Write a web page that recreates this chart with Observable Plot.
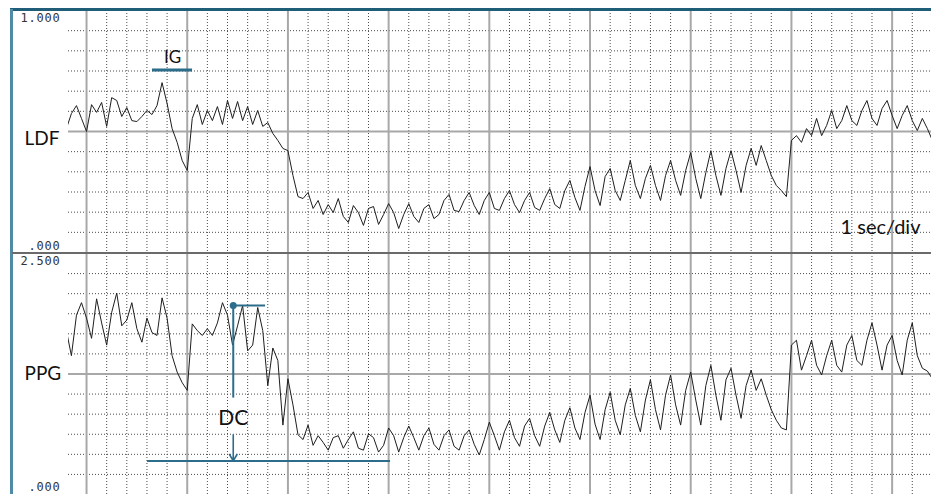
<!DOCTYPE html>
<html><head><meta charset="utf-8">
<script src="https://cdn.jsdelivr.net/npm/d3@7"></script>
<script src="https://cdn.jsdelivr.net/npm/@observablehq/plot@0.6"></script>
<style>
body{margin:0;background:#fff;}
#wrap{position:relative;width:931px;height:494px;overflow:hidden;background:#fff;}
#wrap svg{display:block;}
.deco{position:absolute;}
g[aria-label="y-axis tick label"] text{letter-spacing:0.8px;}
</style></head><body><div id="wrap"></div>
<script>
// sample times (seconds), 1 sec per major division
const time = [
-0.20,-0.15,-0.10,-0.05,0.00,0.05,0.10,0.15,0.20,0.25,
0.30,0.35,0.40,0.45,0.50,0.55,0.60,0.65,0.70,0.75,
0.80,0.85,0.90,0.95,1.00,1.05,1.10,1.15,1.20,1.25,
1.30,1.35,1.40,1.45,1.50,1.55,1.60,1.65,1.70,1.75,
1.80,1.85,1.90,1.95,2.00,2.05,2.10,2.15,2.20,2.25,
2.30,2.35,2.40,2.45,2.50,2.55,2.60,2.65,2.70,2.75,
2.80,2.85,2.90,2.95,3.00,3.05,3.10,3.15,3.20,3.25,
3.30,3.35,3.40,3.45,3.50,3.55,3.60,3.65,3.70,3.75,
3.80,3.85,3.90,3.95,4.00,4.05,4.10,4.15,4.20,4.25,
4.30,4.35,4.40,4.45,4.50,4.55,4.60,4.65,4.70,4.75,
4.80,4.85,4.90,4.95,5.00,5.05,5.10,5.15,5.20,5.25,
5.30,5.35,5.40,5.45,5.50,5.55,5.60,5.65,5.70,5.75,
5.80,5.85,5.90,5.95,6.00,6.05,6.10,6.15,6.20,6.25,
6.30,6.35,6.40,6.45,6.50,6.55,6.60,6.65,6.70,6.75,
6.80,6.85,6.90,6.95,7.00,7.05,7.10,7.15,7.20,7.25,
7.30,7.35,7.40,7.45,7.50,7.55,7.60,7.65,7.70,7.75,
7.80,7.85,7.90,7.95,8.00,8.05,8.10,8.15,8.20,8.25,
8.30,8.35,8.40];

const ldf = [
.512,.574,.607,.554,.500,.611,.579,.620,.521,.640,
.628,.562,.599,.545,.541,.562,.587,.570,.607,.702,
.616,.512,.455,.380,.339,.554,.611,.529,.587,.545,
.603,.529,.628,.554,.624,.545,.603,.529,.587,.521,
.537,.492,.463,.430,.421,.318,.231,.223,.248,.182,
.215,.157,.198,.165,.223,.149,.124,.194,.165,.112,
.182,.190,.116,.157,.202,.165,.099,.157,.202,.149,
.124,.182,.198,.140,.157,.215,.240,.174,.169,.215,
.248,.194,.157,.215,.248,.182,.174,.223,.256,.198,
.165,.215,.248,.186,.174,.223,.264,.198,.182,.256,
.298,.227,.174,.273,.355,.256,.194,.314,.347,.256,
.215,.298,.380,.277,.223,.306,.360,.277,.215,.318,
.380,.298,.236,.339,.413,.306,.223,.330,.421,.318,
.236,.347,.421,.339,.248,.360,.430,.360,.442,.380,
.318,.277,.256,.231,.463,.483,.455,.512,.483,.554,
.483,.525,.587,.512,.545,.607,.545,.525,.587,.628,
.554,.525,.595,.628,.566,.512,.566,.607,.545,.504,
.554,.512,.463];

const ppg = [
1.70,1.44,1.86,1.99,1.83,1.62,2.03,1.78,1.55,1.89,
2.09,1.75,1.81,1.99,1.72,1.58,1.83,1.68,1.65,2.04,
1.83,1.44,1.27,1.16,1.08,1.77,1.70,1.65,1.72,1.65,
1.78,1.99,1.86,1.55,1.75,1.96,1.49,1.55,1.94,1.70,
1.13,1.52,1.39,0.72,1.20,0.93,0.62,0.57,0.72,0.51,
0.61,0.54,0.46,0.59,0.61,0.48,0.57,0.65,0.48,0.46,
0.63,0.59,0.44,0.51,0.69,0.61,0.44,0.59,0.71,0.59,
0.46,0.61,0.69,0.52,0.46,0.61,0.67,0.50,0.46,0.61,
0.67,0.52,0.41,0.57,0.75,0.61,0.46,0.65,0.77,0.59,
0.50,0.71,0.79,0.61,0.50,0.71,0.85,0.67,0.54,0.77,
0.90,0.69,0.57,0.85,1.03,0.73,0.57,0.88,1.06,0.77,
0.62,0.93,1.10,0.82,0.65,0.98,1.19,0.88,0.67,1.03,
1.24,0.93,0.72,1.08,1.27,0.98,0.72,1.13,1.34,1.03,
0.77,1.19,1.31,1.03,0.79,1.13,1.29,1.08,1.20,1.03,
0.88,0.77,0.69,0.67,1.55,1.60,1.29,1.44,1.60,1.34,
1.24,1.44,1.60,1.34,1.27,1.55,1.65,1.39,1.34,1.60,
1.78,1.55,1.29,1.55,1.65,1.39,1.24,1.60,1.78,1.44,
1.31,1.28,1.20];

// grid / ticks
const timeDomain = [-0.179, 8.391];
const majorTicks = [0,1,2,3,4,5,6,7,8];
const minorTicks = [0.2,0.4,0.6,0.8,1.2,1.4,1.6,1.8,2.2,2.4,2.6,2.8,3.2,3.4,3.6,3.8,
  4.2,4.4,4.6,4.8,5.2,5.4,5.6,5.8,6.2,6.4,6.6,6.8,7.2,7.4,7.6,7.8,8.2];
const ldfMinor = [0.0833,0.1667,0.25,0.3333,0.4167,0.5833,0.6667,0.75,0.8333,0.9167];
const ldfMid = [0.5];
const ppgMinor = [0.2083,0.4167,0.625,0.8333,1.0417,1.4583,1.6667,1.875,2.0833,2.2917];
const ppgMid = [1.25];
const ldfTicks = [1, 0];
const ldfTickLabels = ["1.000", ".000"];
const ppgTicks = [2.5, 0];
const ppgTickLabels = ["2.500", ".000"];

// annotations
const igLabel = "IG";
const igSpan = [0.655, 1.053];
const igLevel = 0.754;
const dcLabel = "DC";
const dcTime = 1.457;
const dcTop = 1.96;
const dcTopEnd = 1.778;
const dcBase = 0.348;
const dcBaseSpan = [0.606, 3.019];
const dcLabelLevel = 0.79;
const dcGap = [0.62, 1.0];
const scaleNote = "1 sec/div";

const blue = "#2c6d8c";
const dotted = {stroke: "#4a4a4a", strokeDasharray: "1,2", strokeWidth: 1};
const major = {stroke: "#a8a8a8", strokeWidth: 2};
const axisFont = {fontFamily: "DejaVu Sans Mono", fontSize: 12, fill: "#333"};
const labelFont = {fontFamily: "Lato", fill: "#111"};

function rows(vals) { return vals.map((v, i) => ({t: time[i], v})); }

function axisMarks(ticks, labels, dyTop, dyBottom) {
  const fmt = d => labels[ticks.indexOf(d)];
  return [
    Plot.axisY([ticks[0]], {tickSize: 0, tickPadding: 8, dy: dyTop, tickFormat: fmt, label: null, ...axisFont}),
    Plot.axisY([ticks[1]], {tickSize: 0, tickPadding: 8, dy: dyBottom, tickFormat: fmt, label: null, ...axisFont})
  ];
}

const ldfChart = Plot.plot({
  width: 931, height: 252, marginTop: 10, marginBottom: 0, marginLeft: 68, marginRight: 0,
  x: {domain: timeDomain, axis: null},
  y: {domain: [0, 1]},
  marks: [
    Plot.ruleY(ldfMinor, dotted),
    Plot.ruleX(minorTicks, dotted),
    Plot.ruleX(majorTicks, major),
    Plot.ruleY(ldfMid, major),
    Plot.line(rows(ldf), {x: "t", y: "v", stroke: "#1e1e1e", strokeWidth: 1, clip: true}),
    ...axisMarks(ldfTicks, ldfTickLabels, 7.5, -6),
    Plot.text(["LDF"], {frameAnchor: "left", textAnchor: "start", dx: -44, dy: 7, fontSize: 19, ...labelFont}),
    Plot.ruleY([igLevel], {x1: igSpan[0], x2: igSpan[1], stroke: blue, strokeWidth: 3}),
    Plot.text([igLabel], {x: (igSpan[0] + igSpan[1]) / 2, y: igLevel, dy: -12, fontSize: 17, ...labelFont}),
    Plot.text([scaleNote], {frameAnchor: "bottom-right", textAnchor: "end", dx: -11, dy: -19, fontSize: 20, ...labelFont})
  ]
});

const ppgChart = Plot.plot({
  width: 931, height: 242, marginTop: 1, marginBottom: 0, marginLeft: 68, marginRight: 0,
  x: {domain: timeDomain, axis: null},
  y: {domain: [0, 2.5]},
  marks: [
    Plot.ruleY(ppgMinor, dotted),
    Plot.ruleX(minorTicks, dotted),
    Plot.ruleX(majorTicks, major),
    Plot.ruleY(ppgMid, major),
    Plot.line(rows(ppg), {x: "t", y: "v", stroke: "#1e1e1e", strokeWidth: 1, clip: true}),
    ...axisMarks(ppgTicks, ppgTickLabels, 7.5, -7),
    Plot.text(["PPG"], {frameAnchor: "left", textAnchor: "start", dx: -44, dy: 0, fontSize: 19, ...labelFont}),
    Plot.ruleY([dcBase], {x1: dcBaseSpan[0], x2: dcBaseSpan[1], stroke: blue, strokeWidth: 2}),
    Plot.ruleY([dcTop], {x1: dcTime, x2: dcTopEnd, stroke: blue, strokeWidth: 2}),
    Plot.ruleX([dcTime], {y1: dcTop, y2: dcGap[1], stroke: blue, strokeWidth: 2}),
    Plot.arrow([{x1: dcTime, y1: dcGap[0], x2: dcTime, y2: dcBase}], {x1: "x1", y1: "y1", x2: "x2", y2: "y2", stroke: blue, strokeWidth: 1.6, headLength: 7}),
    Plot.dot([{t: dcTime, v: dcTop}], {x: "t", y: "v", r: 3.5, fill: blue}),
    Plot.text([dcLabel], {x: dcTime, y: dcLabelLevel, fontSize: 21, ...labelFont})
  ]
});

const wrap = document.getElementById("wrap");
wrap.appendChild(ldfChart);
wrap.appendChild(ppgChart);
function deco(css) { const d = document.createElement("div"); d.className = "deco"; Object.assign(d.style, css); wrap.appendChild(d); }
deco({left: "10px", top: "8px", width: "921px", height: "3px", background: "#1f5d79"});
deco({left: "10px", top: "9px", width: "2.5px", height: "485px", background: "#4f8ba6"});
deco({left: "12px", top: "251.5px", width: "919px", height: "2.5px", background: "#6a6a6a"});
</script></body></html>
